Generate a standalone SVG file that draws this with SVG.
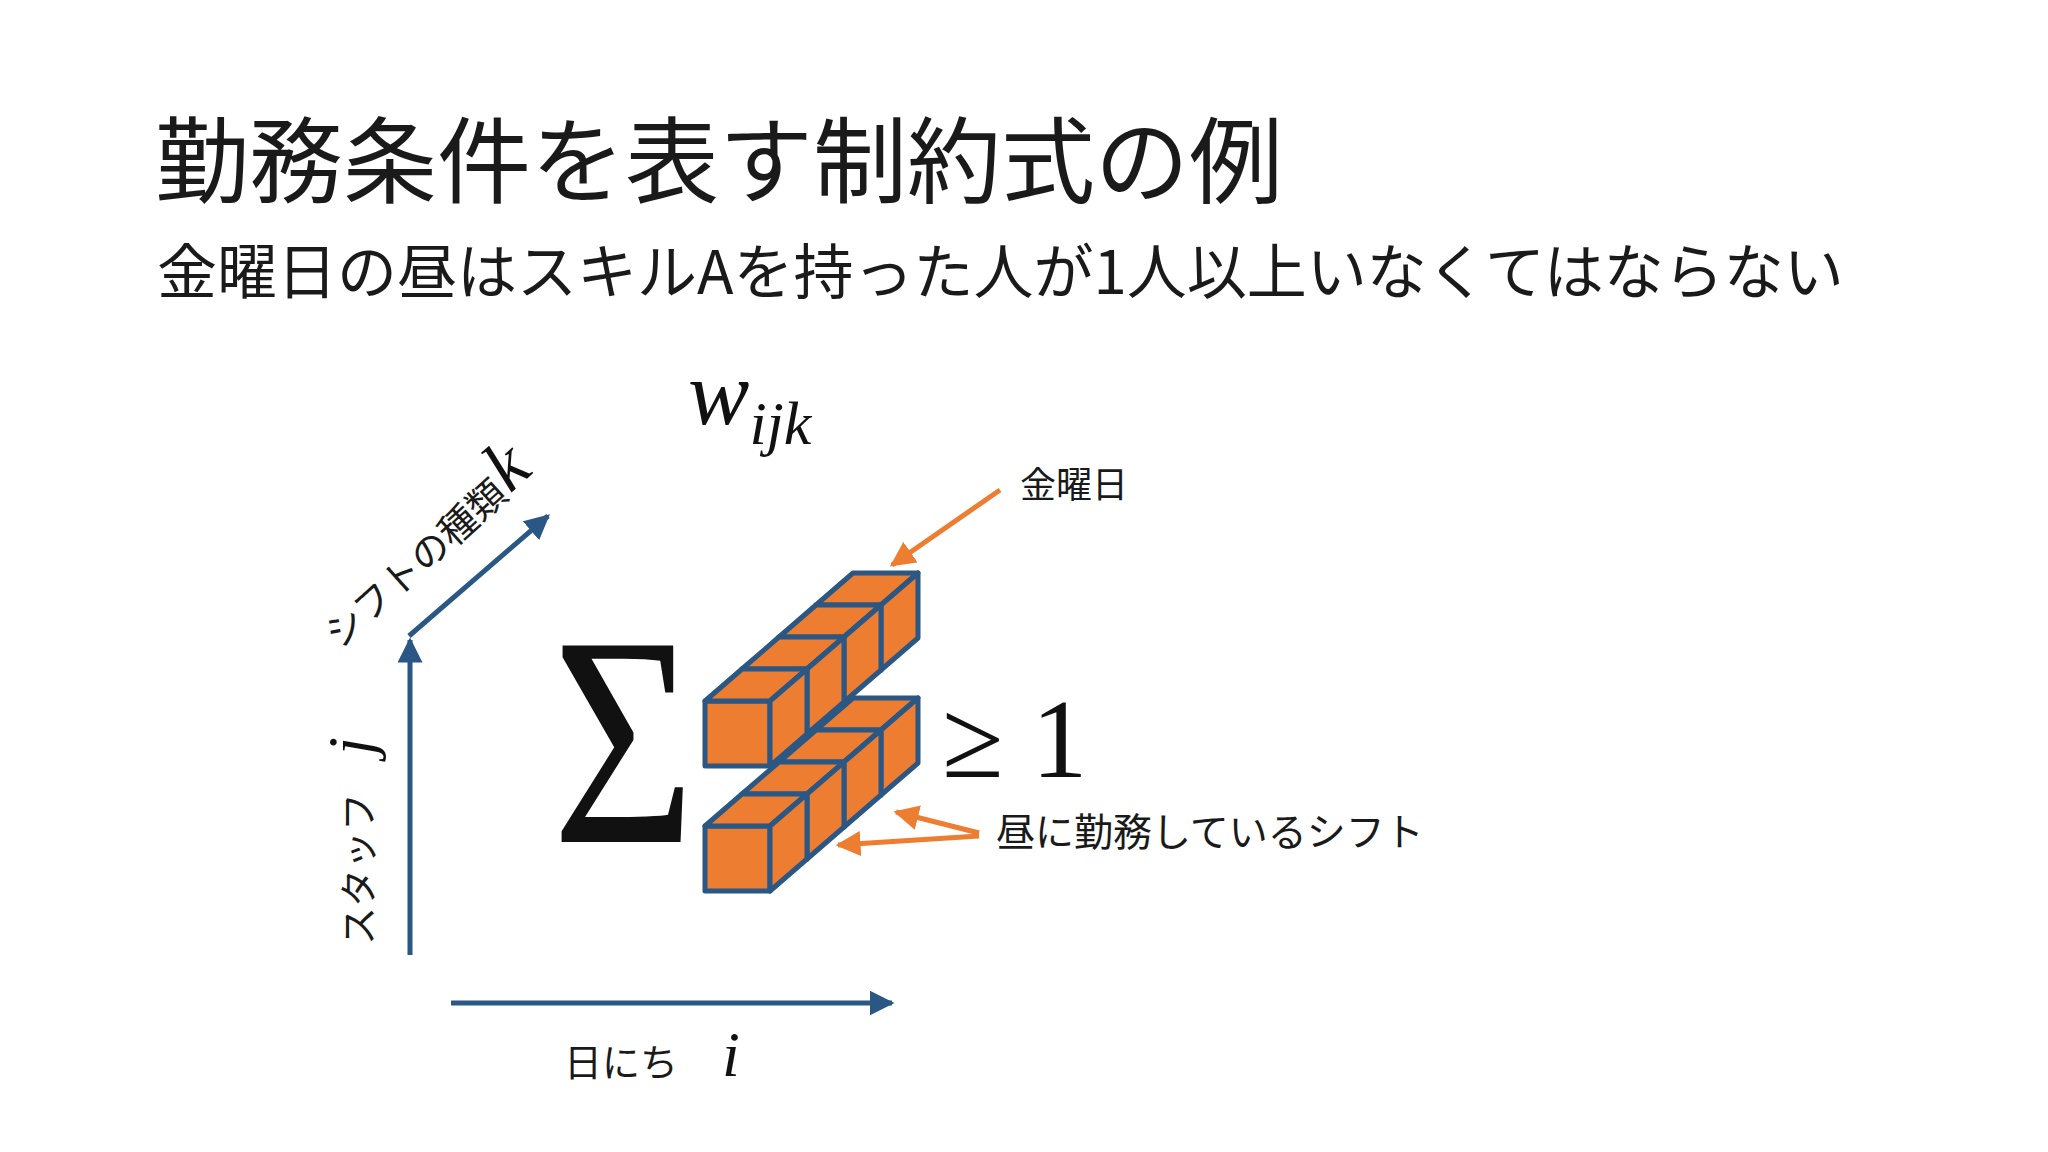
<svg xmlns="http://www.w3.org/2000/svg" width="2048" height="1152" viewBox="0 0 2048 1152">
<defs>
<style>
.jp{font-family:"Noto Sans CJK JP","Noto Sans",sans-serif;fill:#1a1a1a}
.m{font-family:"Liberation Serif","DejaVu Serif",serif;font-style:italic;fill:#111}
.ax{stroke:#2a5783;stroke-width:5;fill:none}
.or{stroke:#ed7d31;stroke-width:5;fill:none}
.c{fill:#ed7d31;stroke:#2a5783;stroke-width:5;stroke-linejoin:round}
</style>
<marker id="ab" viewBox="0 0 10 10" refX="9" refY="5" markerWidth="5" markerHeight="5" orient="auto" markerUnits="strokeWidth"><path d="M0,0L10,5L0,10z" fill="#2a5783"/></marker>
<marker id="ao" viewBox="0 0 10 10" refX="9" refY="5" markerWidth="5" markerHeight="5" orient="auto" markerUnits="strokeWidth"><path d="M0,0L10,5L0,10z" fill="#ed7d31"/></marker>
<g id="cube"><path class="c" d="M0,0h65v65h-65z"/><path class="c" d="M0,0l37,-32h65l-37,32z"/><path class="c" d="M65,0l37,-32v65l-37,32z"/></g>
</defs>
<rect width="2048" height="1152" fill="#fff"/>
<g id="title"><text class="jp" x="155" y="196" font-size="94">勤務条件を表す制約式の例</text></g>
<g id="subtitle"><text class="jp" x="157" y="294" font-size="60">金曜日の昼はスキルAを持った人が1人以上いなくてはならない</text></g>
<g id="wijk"><text class="m" x="688" y="424" font-size="92">w<tspan font-size="62" dy="20">ijk</tspan></text></g>
<g id="connectors">
<line class="ax" x1="410" y1="955" x2="410" y2="640" marker-end="url(#ab)"/>
<line class="ax" x1="451" y1="1003" x2="892" y2="1003" marker-end="url(#ab)"/>
<line class="ax" x1="409" y1="636" x2="548" y2="516" marker-end="url(#ab)"/>
<line class="or" x1="1000" y1="490" x2="892" y2="565" marker-end="url(#ao)"/>
<line class="or" x1="979" y1="833" x2="896" y2="812" marker-end="url(#ao)"/>
<line class="or" x1="979" y1="836" x2="838" y2="845" marker-end="url(#ao)"/>
</g>
<g id="axis-labels">
<text class="jp" font-size="38" transform="translate(372,945) rotate(-90)">スタッフ</text>
<text class="m" font-size="64" transform="translate(372,755) rotate(-90)">j</text>
<text class="jp" font-size="38" transform="translate(340,650) rotate(-42)">シフトの種類</text>
<text class="m" font-size="72" transform="translate(510,494) rotate(-42)">k</text>
<text class="jp" x="564" y="1076" font-size="38">日にち</text>
<text class="m" x="722" y="1076" font-size="64">i</text>
</g>
<g id="sum"><text font-family="'Liberation Serif',serif" font-size="300" fill="#111" transform="translate(552,842) scale(0.82,1)">Σ</text></g>
<g id="cubes">
<use href="#cube" x="816" y="605"/>
<use href="#cube" x="816" y="730"/>
<use href="#cube" x="779" y="637"/>
<use href="#cube" x="779" y="762"/>
<use href="#cube" x="742" y="669"/>
<use href="#cube" x="742" y="794"/>
<use href="#cube" x="705" y="701"/>
<use href="#cube" x="705" y="826"/>
</g>
<g id="ineq"><text x="942" y="777" font-family="'Liberation Serif',serif" font-size="112" fill="#111">≥ 1</text></g>
<g id="lbl-fri"><text class="jp" x="1020" y="498" font-size="36">金曜日</text></g>
<g id="lbl-noon"><text class="jp" x="996" y="846" font-size="39">昼に勤務しているシフト</text></g>
</svg>
